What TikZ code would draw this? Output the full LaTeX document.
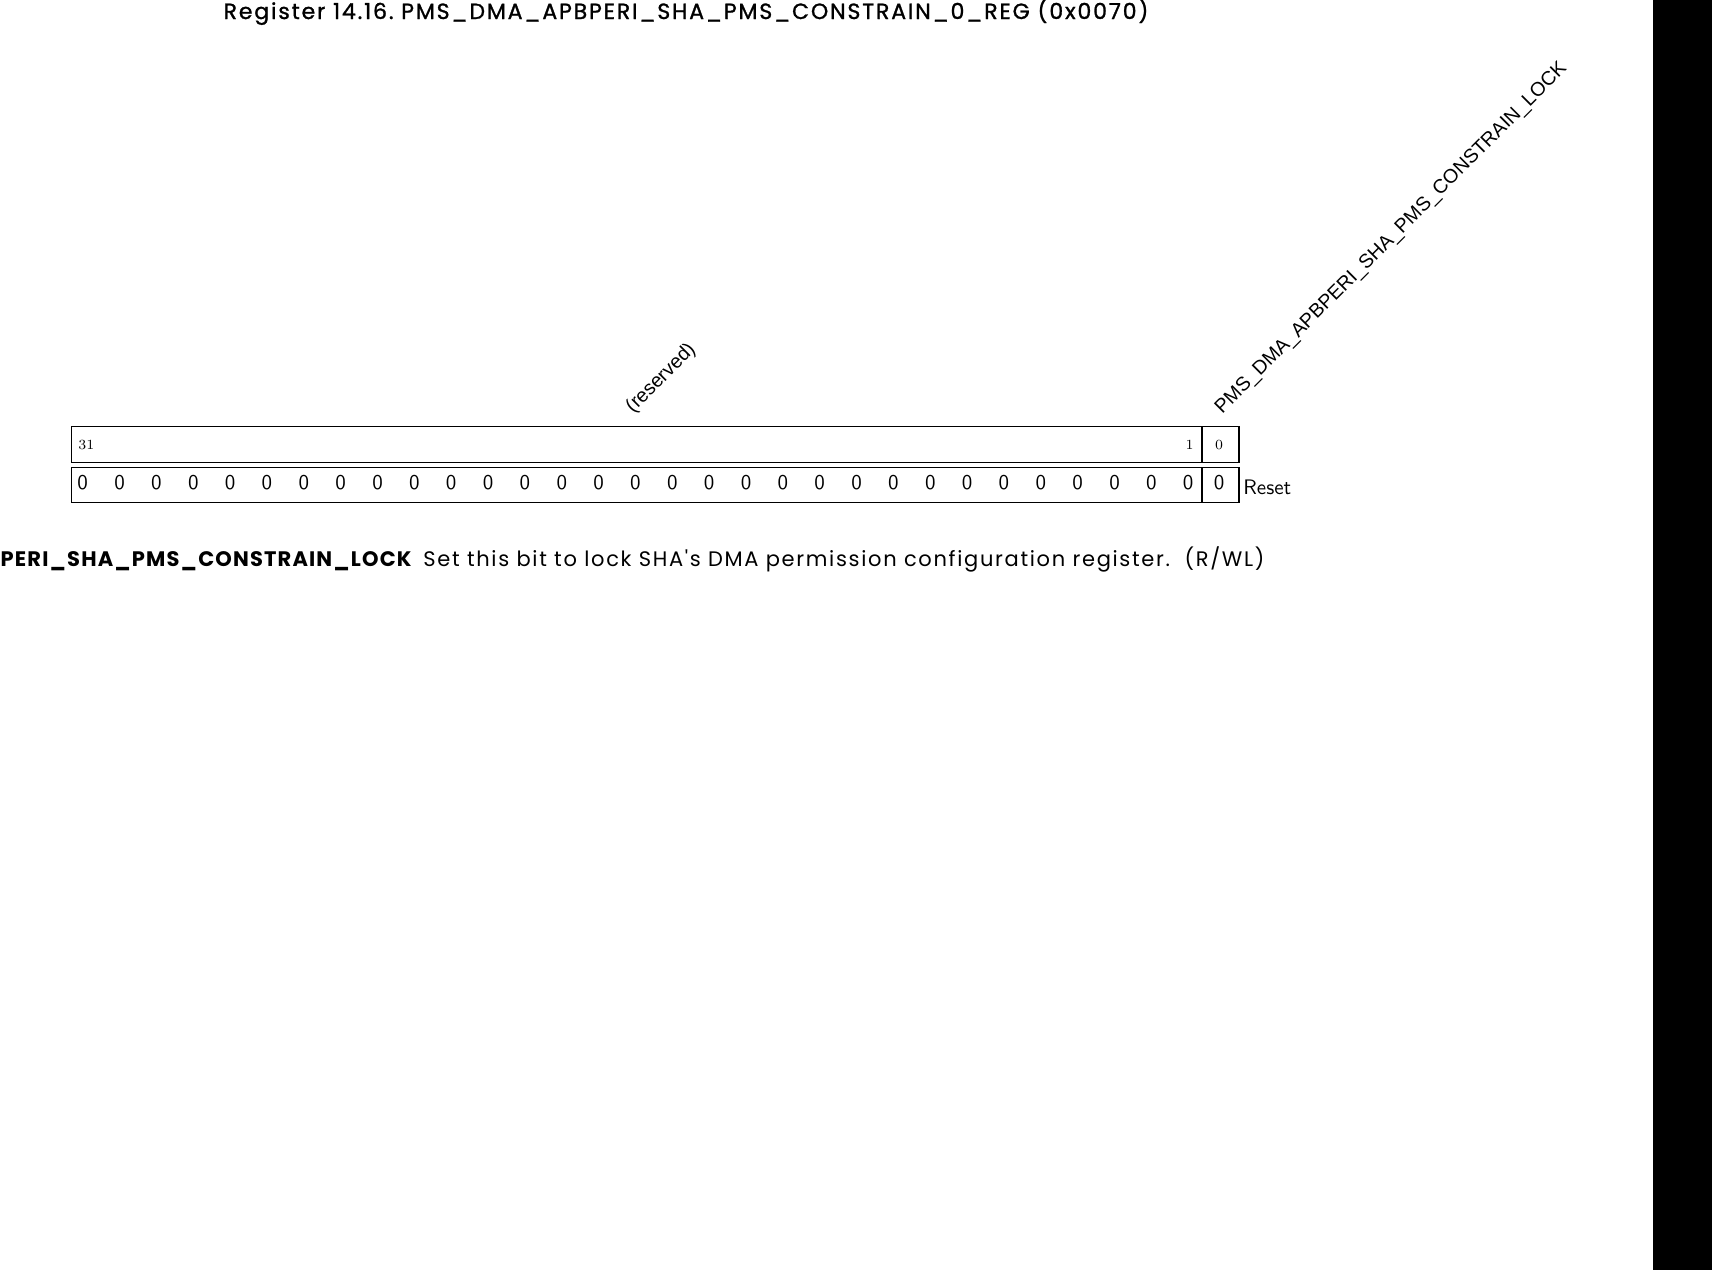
\documentclass[tikz,border=0pt]{standalone}
\usepackage{fontspec}
\newfontfamily\labelfont{Liberation Sans}
\newfontfamily\headfont{Poppins}[LetterSpace=8.5, FakeBold=1.2]
\newfontfamily\descfont{Poppins}[LetterSpace=8]
\newfontfamily\namefont{Poppins}[LetterSpace=5.5]
\usetikzlibrary{positioning}

\begin{document}
\begin{tikzpicture}[
    x=0.5pt, y=-0.5pt,
    field/.style={rectangle, draw=black, line width=0.6pt, minimum width=#1, minimum height=18pt, inner sep=0pt, anchor=north west},
    bitnum/.style={font=\rmfamily\scriptsize, inner sep=0pt},
    resetval/.style={font=\sffamily\fontsize{10.5}{12}\selectfont, inner sep=0pt, anchor=base},
    fieldname/.style={font=\labelfont\fontsize{9.8}{11}\selectfont, rotate=45, anchor=south west, inner sep=0pt},
    desc/.style={font=\descfont\fontsize{10.5}{12}\selectfont, inner sep=0pt}
]
    \useasboundingbox (0,0) rectangle (1712,1270);

    % Title
    \node[font=\headfont\fontsize{11}{13}\selectfont, inner sep=0pt, anchor=base] (title) at (686,19)
        {Register 14.16.\ PMS\_DMA\_APBPERI\_SHA\_PMS\_CONSTRAIN\_0\_REG (0x0070)};

    % Field names
    \node[fieldname] (resname) at (636,417) {(reserved)};
    \node[fieldname] (lockname) at (1225,418) {PMS\_DMA\_APBPERI\_SHA\_PMS\_CONSTRAIN\_LOCK};

    % Bit row
    \node[field=565pt] (resbits) at (70.7,426) {};
    \node[field=18.25pt, right=0pt of resbits.north east, anchor=north west] (lockbits) {};
    \node[bitnum, anchor=base west] (b31) at (78,449) {31};
    \node[bitnum, anchor=base east] (b1) at (1194,449) {1};
    \node[bitnum, anchor=base] (b0) at (1219,449) {0};

    % Reset row
    \node[field=565pt, minimum height=17.75pt] (resreset) at (70.7,466.5) {};
    \node[field=18.25pt, minimum height=17.75pt, right=0pt of resreset.north east, anchor=north west] (lockreset) {};
    \foreach \i in {0,...,30}
        \node[resetval] (z\i) at ({82.7+\i*36.85},489) {0};
    \node[resetval] (z31) at (1219,489) {0};
    \node[font=\sffamily\fontsize{10.5}{12}\selectfont, inner sep=0pt, anchor=base west] (resetlbl) at (1243,494) {Reset};

    % Description
    \node[desc, font=\namefont\bfseries\fontsize{10.5}{12}\selectfont, anchor=base east] (descname) at (412,566)
        {PERI\_SHA\_PMS\_CONSTRAIN\_LOCK};
    \node[desc, anchor=base west] (desctext) at (423,566)
        {Set this bit to lock SHA's DMA permission configuration register.\ \ (R/WL)};

    % Edge band
    \fill[black] (1653,0) rectangle (1712,1270);
\end{tikzpicture}
\end{document}
